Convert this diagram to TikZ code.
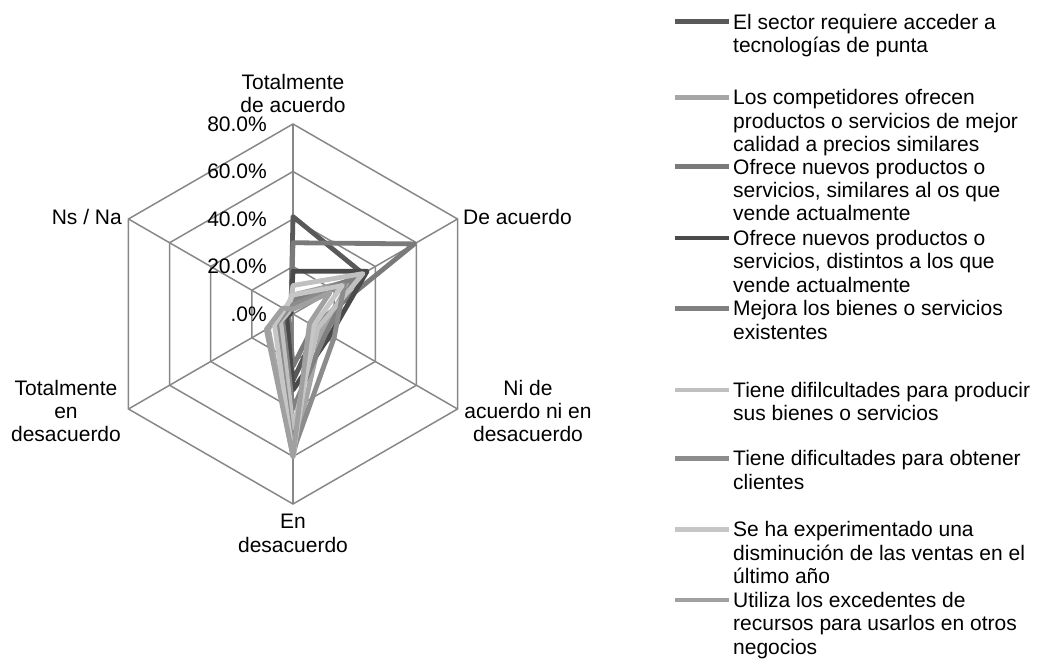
\documentclass[tikz,border=0pt]{standalone}
\usepackage{fontspec}
\setmainfont{Liberation Sans}
\definecolor{gridc}{HTML}{888888}
\definecolor{sA}{HTML}{595959}
\definecolor{sB}{HTML}{A6A6A6}
\definecolor{sC}{HTML}{7A7A7A}
\definecolor{sD}{HTML}{4A4A4A}
\definecolor{sE}{HTML}{808080}
\definecolor{sF}{HTML}{C0C0C0}
\definecolor{sG}{HTML}{8C8C8C}
\definecolor{sH}{HTML}{C6C6C6}
\definecolor{sI}{HTML}{A0A0A0}
\newcommand\radarline[7]{%
  \draw[serie,draw=#1] (90:{#2*2.375}) -- (30:{#3*2.375}) -- (-30:{#4*2.375}) -- (-90:{#5*2.375}) -- (-150:{#6*2.375}) -- (150:{#7*2.375}) -- cycle;}
\begin{document}
\begin{tikzpicture}[x=1pt,y=1pt,
  font=\fontsize{21}{23.3}\selectfont,
  gridline/.style={draw=gridc,line width=1.5pt},
  serie/.style={line width=4.8pt,line join=round},
  legline/.style={line width=4.8pt},
  lbl/.style={inner sep=0pt,align=center},
  legtext/.style={inner sep=0pt,align=left,anchor=base west}]
\useasboundingbox (0,0) rectangle (1042,664);
\begin{scope}[shift={(293,350)}]
  \foreach \v in {20,40,60,80}{
    \pgfmathsetmacro\rr{\v*2.375}
    \draw[gridline] (90:\rr) -- (30:\rr) -- (-30:\rr) -- (-90:\rr) -- (-150:\rr) -- (150:\rr) -- cycle;
  }
  \foreach \a in {90,30,-30,-90,-150,150}
    \draw[gridline] (0,0) -- (\a:190);
  \radarline{sA}{41}{34}{12}{28}{3}{1}
  \radarline{sB}{8}{28}{14}{60}{12}{3}
  \radarline{sC}{30}{59}{10}{22}{2}{1}
  \radarline{sD}{18}{36}{18}{32}{3}{1}
  \radarline{sE}{6}{30}{16}{40}{5}{2}
  \radarline{sF}{12}{34}{12}{48}{6}{2}
  \radarline{sG}{4}{25}{20}{58}{8}{3}
  \radarline{sH}{8}{24}{10}{60}{9}{4}
  \radarline{sI}{2}{18}{8}{60}{13}{5}
\end{scope}
% tick labels
\node[lbl,anchor=east] (t80) at (267,540) {80.0\%};
\node[lbl,anchor=east] (t60) at (267,492.5) {60.0\%};
\node[lbl,anchor=east] (t40) at (267,445) {40.0\%};
\node[lbl,anchor=east] (t20) at (267,397.5) {20.0\%};
\node[lbl,anchor=east] (t0) at (267,350) {.0\%};
% axis labels
\node[lbl] (ax1) at (293,570.5) {Totalmente\\de acuerdo};
\node[lbl,anchor=west] (ax2) at (463,447) {De acuerdo};
\node[lbl] (ax3) at (528,253) {Ni de\\acuerdo ni en\\desacuerdo};
\node[lbl] (ax4) at (293,130.5) {En\\desacuerdo};
\node[lbl] (ax5) at (66,253) {Totalmente\\en\\desacuerdo};
\node[lbl,anchor=east] (ax6) at (122,447) {Ns / Na};
% legend
\foreach \i/\y/\n/\c/\t in {
  1/21.7/1/sA/{El sector requiere acceder a\\tecnologías de punta},
  2/97.5/2/sB/{Los competidores ofrecen\\productos o servicios de mejor\\calidad a precios similares},
  3/166.7/2/sC/{Ofrece nuevos productos o\\servicios, similares al os que\\vende actualmente},
  4/238/2/sD/{Ofrece nuevos productos o\\servicios, distintos a los que\\vende actualmente},
  5/308.3/1/sE/{Mejora los bienes o servicios\\existentes},
  6/390/1/sF/{Tiene difilcultades para producir\\sus bienes o servicios},
  7/458.5/1/sG/{Tiene dificultades para obtener\\clientes},
  8/529.5/2/sH/{Se ha experimentado una\\disminución de las ventas en el\\último año},
  9/600/2/sI/{Utiliza los excedentes de\\recursos para usarlos en otros\\negocios}}{
  \coordinate (la\i) at (675,664-\y);
  \coordinate (lb\i) at (729,664-\y);
  \draw[legline,draw=\c] (la\i) -- (lb\i);
  \node[legtext] (leg\i) at (733,664-\y-7.5-\n*23.3) {\t};
}
\end{tikzpicture}
\end{document}
